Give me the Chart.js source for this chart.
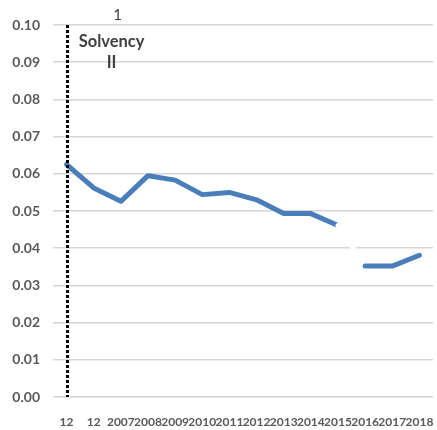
<!DOCTYPE html>
<html><head><meta charset="utf-8">
<script src="https://cdn.jsdelivr.net/npm/chart.js@4/dist/chart.umd.min.js"></script>
<style>html,body{margin:0;padding:0;background:#fff}canvas{display:block}</style>
</head><body>
<canvas id="c" width="437" height="430"></canvas>
<script>
const categories = ['12','12','2007','2008','2009','2010','2011','2012','2013','2014','2015','2016','2017','2018'];
const rates = [0.0625,0.0562,0.0526,0.0595,0.0583,0.0544,0.0550,0.0530,0.0493,0.0493,0.0461,0.0352,0.0352,0.0381];
const markerIndex = 0;
const markerY = [0, 0.10];
const yTicks = [0,0.01,0.02,0.03,0.04,0.05,0.06,0.07,0.08,0.09,0.10];
const noteTop = '1';
const noteLines = ['Solvency','II'];

const marker = {
  id:'marker',
  afterDatasetsDraw(chart){
    const c = chart.ctx, x = chart.scales.x, y = chart.scales.y;
    const px = Math.round(x.getPixelForValue(markerIndex)) + 0.5;
    c.save();
    c.strokeStyle = '#000';
    c.lineWidth = 3;
    c.lineCap = 'butt';
    c.setLineDash([3,2]);
    c.beginPath();
    c.moveTo(px, Math.round(y.getPixelForValue(markerY[1])));
    c.lineTo(px, Math.round(y.getPixelForValue(markerY[0])));
    c.stroke();
    c.restore();
  },
  afterDraw(chart){
    const c = chart.ctx, x = chart.scales.x, y = chart.scales.y;
    const px = x.getPixelForValue(markerIndex) + 45, top = y.getPixelForValue(markerY[1]);
    c.save();
    c.fillStyle = '#404040';
    c.textAlign = 'center';
    c.textBaseline = 'middle';
    c.font = '15px Lato';
    c.fillText(noteTop, px + 6, top - 10);
    c.font = 'bold 16.5px Lato';
    c.fillText(noteLines[0], px, top + 17);
    c.fillText(noteLines[1], px, top + 38);
    c.restore();
  }
};

new Chart(document.getElementById('c'), {
  type:'line',
  data:{
    labels: categories,
    datasets:[
      {
        data: rates,
        borderColor:'#4a7ebb', borderWidth:5, pointRadius:0, fill:false,
        borderJoinStyle:'round', borderCapStyle:'round',
        segment:{ borderColor: ctx => ctx.p0DataIndex === 10 ? '#ffffff' : undefined }
      }
    ]
  },
  options:{
    responsive:false, animation:false,
    layout:{autoPadding:false, padding:{top:25,right:4,left:0,bottom:0}},
    plugins:{legend:{display:false}, tooltip:{enabled:false}},
    scales:{
      x:{
        offset:true,
        afterFit: s => { s.height = 33; s.paddingLeft = 0; s.paddingRight = 0; },
        grid:{display:false, drawTicks:false},
        border:{display:false},
        ticks:{autoSkip:false, maxRotation:0, minRotation:0, padding:18,
          color:'#595959', font:{family:'Lato', size:12, weight:'bold'}}
      },
      y:{
        min:0, max:0.10,
        afterFit: s => { s.width = 53; },
        afterBuildTicks: s => { s.ticks = yTicks.map(v => ({value:v})); },
        grid:{color:'#d6d6d6', lineWidth:1.5, drawTicks:false},
        border:{display:false},
        ticks:{padding:13, color:'#595959', font:{family:'Lato', size:14, weight:'bold'},
          callback: v => v.toFixed(2)}
      }
    }
  },
  plugins:[marker]
});
</script>
</body></html>
